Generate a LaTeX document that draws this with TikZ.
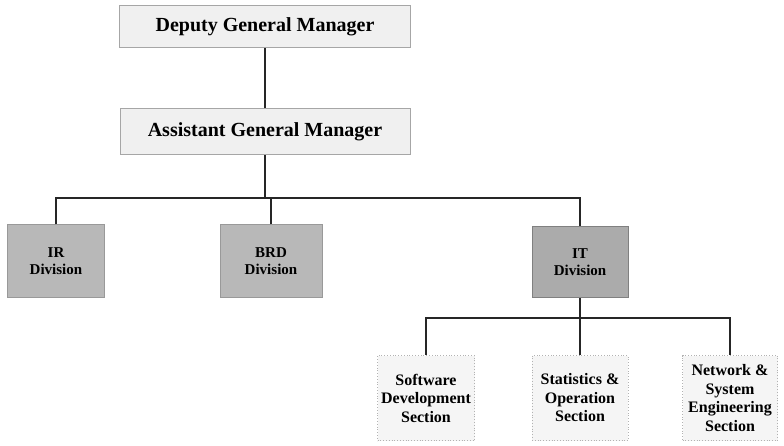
\documentclass[tikz,border=0pt]{standalone}
\usepackage{fontspec}
\setmainfont{Liberation Serif}
\begin{document}
\begin{tikzpicture}[x=1pt,y=-1pt,
  topbox/.style={draw=black!35, line width=1pt, fill=black!6, inner sep=0pt, align=center, font=\bfseries\fontsize{20}{23}\selectfont},
  divbox/.style={draw=black!40, line width=1pt, fill=black!28, inner sep=0pt, align=center, font=\bfseries\fontsize{15}{17}\selectfont},
  itbox/.style={draw=black!50, line width=1pt, fill=black!33, inner sep=0pt, align=center, font=\bfseries\fontsize{15}{17}\selectfont},
  secbox/.style={draw=black!30, line width=0.8pt, dotted, fill=black!4, inner sep=0pt, align=center, font=\bfseries\fontsize{16}{18.5}\selectfont},
  link/.style={draw=black!85, line width=2pt}]
\useasboundingbox (0,0) rectangle (784,446);
\node[topbox, minimum width=291pt, minimum height=42pt] (dgm) at (265,27) {Deputy General Manager};
\node[topbox, minimum width=290pt, minimum height=46pt] (agm) at (265,132) {Assistant General Manager};
\node[divbox, minimum width=97pt, minimum height=72pt] (ir) at (56,261) {IR\\Division};
\node[divbox, minimum width=102pt, minimum height=72pt] (brd) at (271,261) {BRD\\Division};
\node[itbox, minimum width=96pt, minimum height=71pt] (it) at (580,262) {IT\\Division};
\node[secbox, minimum width=97pt, minimum height=85pt] (sw) at (426,398) {Software\\Development\\Section};
\node[secbox, minimum width=96pt, minimum height=85pt] (st) at (580,398) {Statistics \&\\Operation\\Section};
\node[secbox, minimum width=95pt, minimum height=85pt] (nw) at (730,398) {Network \&\\System\\Engineering\\Section};
\draw[link] (dgm.south) -- (dgm.south |- agm.north);
\draw[link] (agm.south) -- (agm.south |- 0,198);
\draw[link] (ir.north) -- (ir.north |- 0,198) -- (it.north |- 0,198) -- (it.north);
\draw[link] (brd.north) -- (brd.north |- 0,198);
\draw[link] (it.south) -- (it.south |- 0,318);
\draw[link] (sw.north) -- (sw.north |- 0,318) -- (nw.north |- 0,318) -- (nw.north);
\draw[link] (st.north) -- (st.north |- 0,318);
\end{tikzpicture}
\end{document}
